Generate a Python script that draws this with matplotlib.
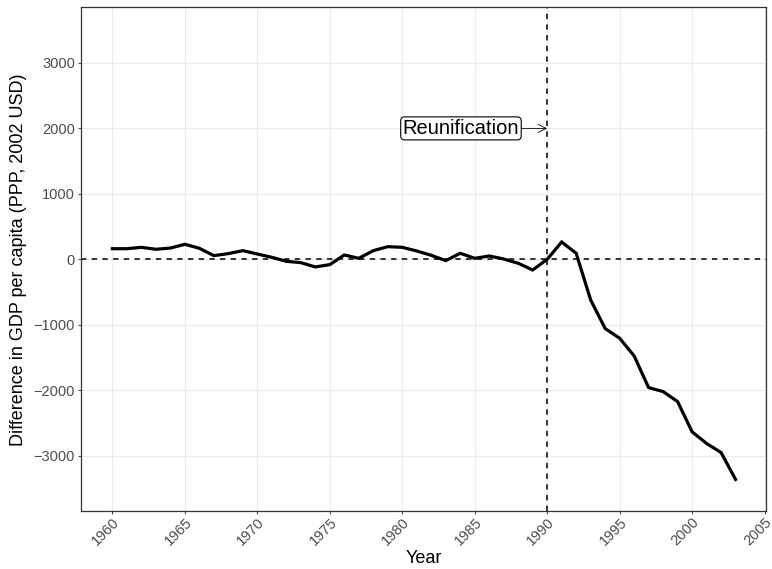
import numpy as np
import matplotlib
matplotlib.use("Agg")
import matplotlib.pyplot as plt

plt.rcParams['font.family'] = ['Liberation Sans', 'DejaVu Sans']

# years and the treated-minus-synthetic gap
years = list(range(1960, 2004))
gap = [162, 162, 183, 153, 172, 229, 168, 56, 87, 132,
       81, 30, -31, -51, -117, -81, 66, 15, 132, 193,
       183, 127, 61, -20, 92, 15, 51, 5, -61, -163,
       0, 264, 92, -621, -1058, -1206, -1476, -1960, -2021, -2174,
       -2636, -2814, -2952, -3363]

xticks = list(range(1960, 2006, 5))
yticks = [-3000, -2000, -1000, 0, 1000, 2000, 3000]
event_year = 1990
label_text = "Reunification"

fig = plt.figure(figsize=(7.72, 5.69), dpi=100)
ax = fig.add_axes([81.3 / 772, 1 - 511.3 / 569, (766 - 81.3) / 772, (511.3 - 7.3) / 569])

ax.grid(True, color='#EBEBEB', lw=0.8, zorder=0)
ax.set_axisbelow(True)

ax.plot(years, gap, color='black', lw=2.3, solid_joinstyle='miter', zorder=3)
ax.axhline(0, color='black', lw=1.1, ls=(0, (3.5, 3.5)), zorder=2)
ax.axvline(event_year, color='black', lw=1.1, ls=(0, (3.5, 3.5)), zorder=2)

ax.annotate(label_text, xy=(event_year, 2000), xytext=(1984.05, 2000),
            ha='center', va='center', fontsize=14.5,
            bbox=dict(boxstyle='round,pad=0.1,rounding_size=0.2', fc='white', ec='black', lw=0.8),
            arrowprops=dict(arrowstyle='->', color='black', lw=0.6, shrinkA=0, shrinkB=0))

ax.set_xlim(1957.85, 2005.1)
ax.set_ylim(-3850, 3850)
ax.set_xticks(xticks)
ax.set_yticks(yticks)
ax.set_yticklabels([str(v).replace('-', '\u2212') for v in yticks])
ax.tick_params(colors='#4D4D4D', labelsize=10.5, length=2.5, width=0.8, direction='out')
ax.tick_params(axis='y', pad=2)
ax.tick_params(axis='x', pad=0.5)
for lab in ax.get_xticklabels():
    lab.set_rotation(45)
    lab.set_ha('right')
    lab.set_rotation_mode('anchor')

for s in ax.spines.values():
    s.set_color('#333333')
    s.set_linewidth(0.9)

ax.set_xlabel('Year', fontsize=13, labelpad=1)
ax.set_ylabel('Difference in GDP per capita (PPP, 2002 USD)', fontsize=13, labelpad=5)

fig.savefig('out.png', dpi=100)
